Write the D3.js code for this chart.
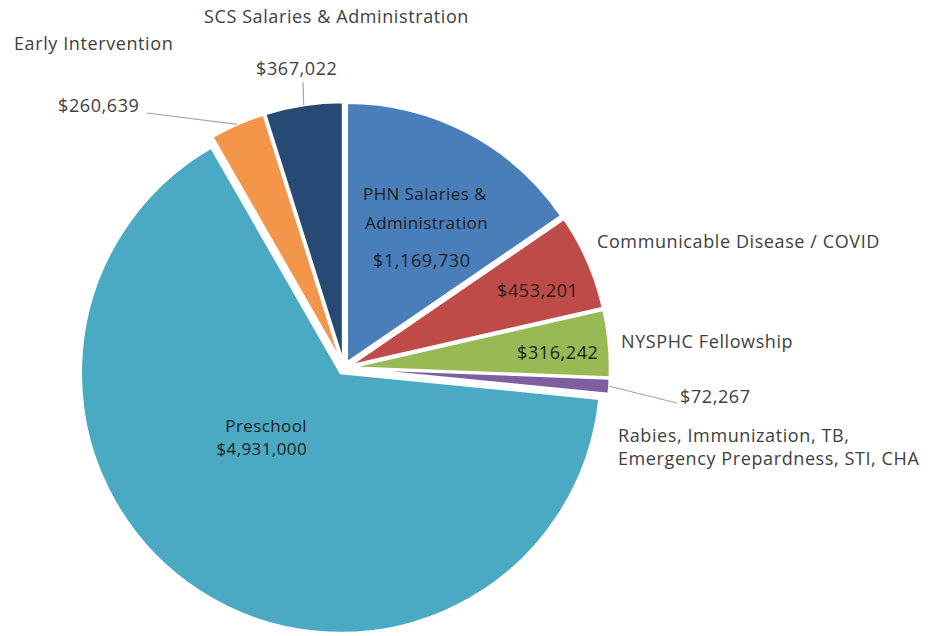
<!DOCTYPE html>
<html>
<head>
<meta charset="utf-8">
<script src="https://d3js.org/d3.v7.min.js"></script>
<style>
  body { margin: 0; background: #fff; }
  svg text { font-family: "Open Sans", "Noto Sans", sans-serif; font-size: 18px; letter-spacing: 0.6px; fill: #404040; }
  svg text.inside { fill: #1e1e1e; }
  svg text.small { font-size: 17px; letter-spacing: 0.4px; }
</style>
</head>
<body>
<svg id="chart" width="928" height="636"></svg>
<script>
// data, clockwise from 12 o'clock
var categories = [
  'PHN Salaries & Administration',
  'Communicable Disease / COVID',
  'NYSPHC Fellowship',
  'Rabies, Immunization, TB, Emergency Prepardness, STI, CHA',
  'Preschool',
  'Early Intervention',
  'SCS Salaries & Administration'
]
var values = [1169730, 453201, 316242, 72267, 4931000, 260639, 367022]
var colors = ['#4a7ebb', '#be4b48', '#98b954', '#7d5fa0', '#4aa9c3', '#f4964a', '#264a73']

// label layout (text, x, y, anchor, class) and leader line end
var labelLayout = [
  { lines: [['PHN Salaries &', 363, 200, 'start', 'small'], ['Administration', 365, 229, 'start', 'small'], ['$1,169,730', 373, 267]], inside: true },
  { lines: [['$453,201', 497, 297]], inside: true, outer: [['Communicable Disease / COVID', 597, 248]] },
  { lines: [['$316,242', 517, 359]], inside: true, outer: [['NYSPHC Fellowship', 621, 348]] },
  { lines: [['$72,267', 680, 403], ['Rabies, Immunization, TB,', 618, 442], ['Emergency Prepardness, STI, CHA', 618, 465]], leader: [677, 403] },
  { lines: [['Preschool', 307, 432, 'end', 'small'], ['$4,931,000', 307, 455, 'end', 'small']], inside: true },
  { lines: [['Early Intervention', 14, 50], ['$260,639', 58, 112]], leader: [147, 113] },
  { lines: [['SCS Salaries & Administration', 204, 23], ['$367,022', 256, 75]], leader: [303, 82] }
]

var cx = 344, cy = 368, radius = 260, explode = 6

var svg = d3.select('#chart')
var g = svg.append('g').attr('transform', 'translate(' + cx + ',' + cy + ')')

var pie = d3.pie().sort(null).value(function(d) { return d })
var arcs = pie(values)

var arc = d3.arc().innerRadius(0).outerRadius(radius)
var edge = d3.arc().innerRadius(radius).outerRadius(radius)

function offset(d) {
  var a = (d.startAngle + d.endAngle) / 2
  return [Math.sin(a) * explode, -Math.cos(a) * explode]
}

g.selectAll('path.slice')
  .data(arcs)
  .enter()
  .append('path')
  .classed('slice', true)
  .attr('d', arc)
  .attr('transform', function(d) {
    var o = offset(d)
    return 'translate(' + o[0] + ',' + o[1] + ')'
  })
  .style('fill', function(d, i) { return colors[i] })
  .style('stroke', '#fff')
  .style('stroke-width', 2.5)

// leader lines
arcs.forEach(function(d, i) {
  var lay = labelLayout[i]
  if (!lay.leader) return
  var o = offset(d)
  var p = edge.centroid(d)
  svg.append('line')
    .attr('x1', cx + p[0] + o[0])
    .attr('y1', cy + p[1] + o[1])
    .attr('x2', lay.leader[0])
    .attr('y2', lay.leader[1])
    .style('stroke', '#a6a6a6')
    .style('stroke-width', 1.2)
})

// labels
labelLayout.forEach(function(lay, i) {
  var all = lay.lines.concat(lay.outer || [])
  all.forEach(function(l, j) {
    svg.append('text')
      .attr('class', (lay.inside && j < lay.lines.length ? 'inside ' : '') + (l[4] || ''))
      .attr('x', l[1])
      .attr('y', l[2])
      .attr('text-anchor', l[3] || 'start')
      .text(l[0])
  })
})
</script>
</body>
</html>
